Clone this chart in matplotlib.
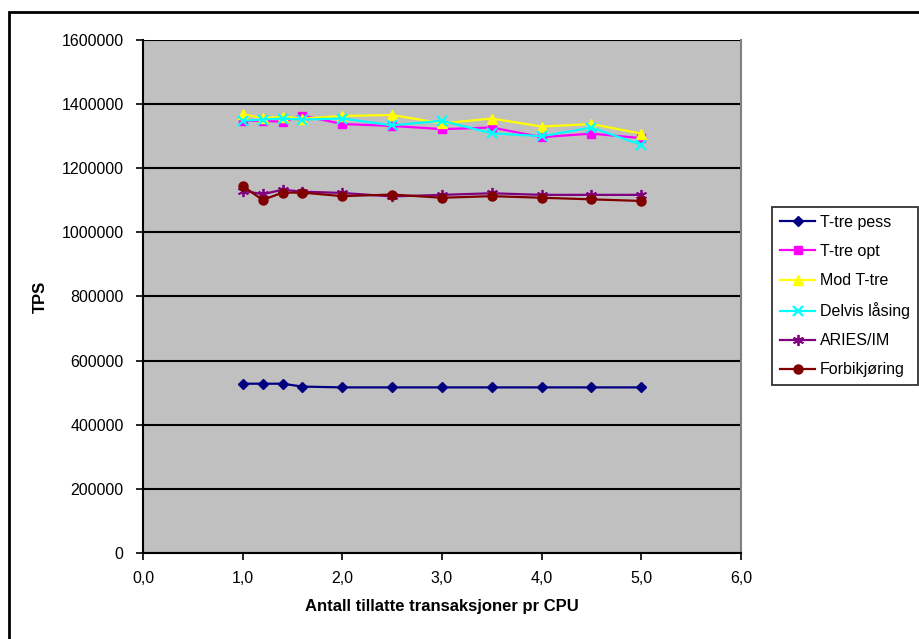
#!/usr/bin/env python3
"""TPS vs. allowed transactions per CPU, Excel-style line chart."""

import matplotlib
matplotlib.use("Agg")
import matplotlib.pyplot as plt
from matplotlib.patches import Rectangle
from matplotlib.ticker import FuncFormatter

plt.rcParams["font.family"] = ["Liberation Sans", "DejaVu Sans"]

# ── Data ──────────────────────────────────────────────────────────────────────
x_vals = [1.0, 1.2, 1.4, 1.6, 2.0, 2.5, 3.0, 3.5, 4.0, 4.5, 5.0]

ttre_pess   = [528000, 528000, 528000, 519000, 516500, 516500, 516500, 516500, 516500, 516500, 516500]
ttre_opt    = [1348000, 1348000, 1345000, 1364000, 1338000, 1332000, 1322000, 1327000, 1297000, 1308000, 1294000]
mod_ttre    = [1369000, 1356000, 1361000, 1355000, 1363000, 1366000, 1340000, 1355000, 1330000, 1338000, 1308000]
delvis      = [1348000, 1352000, 1355000, 1352000, 1355000, 1334000, 1348000, 1309000, 1300000, 1327000, 1273000]
aries_im    = [1130000, 1119000, 1133000, 1127000, 1123000, 1112000, 1117000, 1122000, 1117000, 1117000, 1117000]
forbikjor   = [1145000, 1101000, 1124000, 1124000, 1113000, 1118000, 1108000, 1113000, 1108000, 1103000, 1098000]

series_names = ["T-tre pess", "T-tre opt", "Mod T-tre", "Delvis låsing", "ARIES/IM", "Forbikjøring"]
y_ticks = [0, 200000, 400000, 600000, 800000, 1000000, 1200000, 1400000, 1600000]
x_ticks = [0, 1, 2, 3, 4, 5, 6]

# ── Styles ────────────────────────────────────────────────────────────────────
styles = [
    dict(color="#000080", marker="D", ms=5.5),
    dict(color="#FF00FF", marker="s", ms=6),
    dict(color="#FFFF00", marker="^", ms=7),
    dict(color="#00FFFF", marker="x", ms=7, mew=1.6),
    dict(color="#800080", marker=(6, 2, 0), ms=8, mew=1.3),
    dict(color="#800000", marker="o", ms=6.5),
]
all_series = [ttre_pess, ttre_opt, mod_ttre, delvis, aries_im, forbikjor]

fig = plt.figure(figsize=(9.19, 6.39), dpi=100)
ax = fig.add_axes([143 / 919, 1 - 553 / 639, (741 - 143) / 919, (553 - 40) / 639])
ax.set_facecolor("#C0C0C0")

# outer chart frame (left/top visible, runs past the image edge)
fig.patches.append(Rectangle((9 / 919, -0.1), 1.2, 1.1 - 12 / 639,
                             transform=fig.transFigure, fill=False,
                             edgecolor="black", linewidth=2, zorder=0))

for ys, name, st in zip(all_series, series_names, styles):
    ax.plot(x_vals, ys, label=name, color=st["color"], linewidth=1.6,
            marker=st["marker"], markersize=st["ms"],
            markeredgewidth=st.get("mew", 1.0),
            markerfacecolor=st["color"], markeredgecolor=st["color"],
            clip_on=False, zorder=3)

ax.set_xlim(0, 6)
ax.set_ylim(0, 1600000)
ax.set_xticks(x_ticks)
ax.set_yticks(y_ticks)
ax.xaxis.set_major_formatter(FuncFormatter(lambda v, p: f"{v:.1f}".replace(".", ",")))
ax.yaxis.set_major_formatter(FuncFormatter(lambda v, p: f"{int(v)}"))
ax.tick_params(axis="both", direction="out", length=5, width=1.2,
               labelsize=11.5, color="black")
ax.tick_params(axis="y", pad=9)
ax.tick_params(axis="x", pad=8)

ax.grid(axis="y", color="black", linewidth=1.5, zorder=1)
ax.set_axisbelow(True)
for side in ("left", "bottom"):
    ax.spines[side].set_linewidth(1.5)
    ax.spines[side].set_color("black")
ax.spines["right"].set_color("#808080")
ax.spines["right"].set_linewidth(1.5)
ax.spines["top"].set_visible(False)

ax.set_xlabel("Antall tillatte transaksjoner pr CPU", fontsize=12, fontweight="bold")
ax.set_ylabel("TPS", fontsize=12, fontweight="bold")
ax.xaxis.set_label_coords(0.5, (553 - 607) / 513, transform=ax.transAxes)
ax.yaxis.set_label_coords((40 - 143) / 598, 0.5, transform=ax.transAxes)
ax.xaxis.label.set_va("center")
ax.yaxis.label.set_va("center")

leg = fig.legend(loc="upper left", bbox_to_anchor=(772 / 919, 1 - 207 / 639),
                 fontsize=11.5, frameon=True, fancybox=False, edgecolor="black",
                 handlelength=2.2, handletextpad=0.3, borderpad=0.5,
                 labelspacing=0.88, borderaxespad=0)
leg.get_frame().set_linewidth(1.3)

fig.savefig("out.png", dpi=100)
